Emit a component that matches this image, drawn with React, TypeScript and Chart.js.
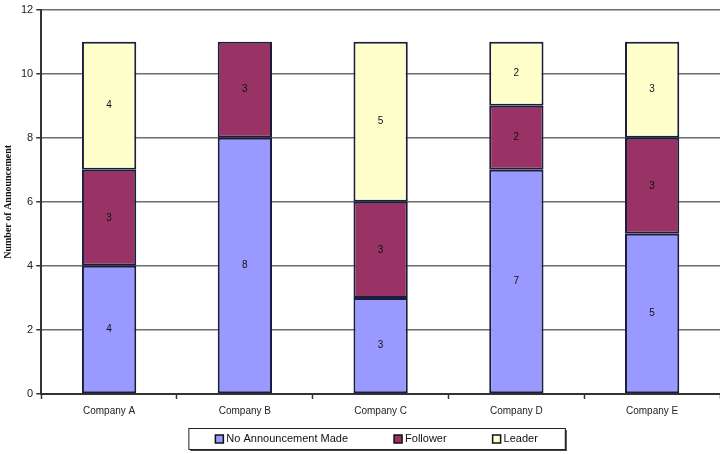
import { useEffect, useRef } from "react";
import { Chart, registerables, Plugin } from "chart.js";

Chart.register(...registerables);

const companies = ["Company A", "Company B", "Company C", "Company D", "Company E"];
const noAnnouncement = [4, 8, 3, 7, 5];
const follower = [3, 3, 3, 2, 3];
const leader = [4, 0, 5, 2, 3];

const SANS = "'Liberation Sans', Arial, sans-serif";
const EDGE = "#1c1c3c";

// numbers in the middle of each segment
const segmentLabels: Plugin<"bar"> = {
  id: "segmentLabels",
  afterDatasetsDraw(chart) {
    const ctx = chart.ctx;
    ctx.save();
    ctx.font = `10px ${SANS}`;
    ctx.fillStyle = "#111";
    ctx.textAlign = "center";
    ctx.textBaseline = "middle";
    chart.data.datasets.forEach((ds, i) => {
      const meta = chart.getDatasetMeta(i);
      meta.data.forEach((bar: any, j) => {
        const v = ds.data[j] as number;
        if (!v) return;
        ctx.fillText(String(v), bar.x, (bar.y + bar.base) / 2);
      });
    });
    ctx.restore();
  },
};

// boxed legend under the axis, like the spreadsheet one
const boxedLegend: Plugin<"bar"> = {
  id: "boxedLegend",
  afterDraw(chart) {
    const ctx = chart.ctx;
    const area = chart.chartArea;
    ctx.save();
    ctx.font = `11px ${SANS}`;
    const marker = 8;
    const gap = 3;
    const between = 46;
    const pad = 27;
    const items = chart.data.datasets.map((ds) => ({
      label: ds.label as string,
      color: ds.backgroundColor as string,
      w: marker + gap + ctx.measureText(ds.label as string).width,
    }));
    const inner = items.reduce((s, it) => s + it.w, 0) + between * (items.length - 1);
    const boxW = inner + pad * 2;
    const boxH = 21;
    const boxX = (area.left + area.right) / 2 - 4 - boxW / 2;
    const boxY = chart.height - 26;

    // shadow
    ctx.fillStyle = "#444";
    ctx.fillRect(boxX + 2, boxY + 2, boxW, boxH);
    ctx.fillStyle = "#fff";
    ctx.fillRect(boxX, boxY, boxW, boxH);
    ctx.strokeStyle = "#222";
    ctx.lineWidth = 1;
    ctx.strokeRect(boxX + 0.5, boxY + 0.5, boxW, boxH);

    let x = boxX + pad;
    const cy = boxY + boxH / 2 + 0.5;
    ctx.textBaseline = "middle";
    ctx.textAlign = "left";
    items.forEach((it) => {
      ctx.fillStyle = it.color;
      ctx.fillRect(x, cy - marker / 2, marker, marker);
      ctx.strokeStyle = "#111";
      ctx.lineWidth = 1.5;
      ctx.strokeRect(x, cy - marker / 2, marker, marker);
      ctx.fillStyle = "#111";
      ctx.fillText(it.label, x + marker + gap, cy);
      x += it.w + between;
    });
    ctx.restore();
  },
};

export default function App() {
  const canvasRef = useRef<HTMLCanvasElement>(null);

  useEffect(() => {
    if (!canvasRef.current) return;
    const chart = new Chart(canvasRef.current, {
      type: "bar",
      data: {
        labels: companies,
        datasets: [
          { label: "No Announcement Made", data: noAnnouncement, backgroundColor: "#9999ff" },
          { label: "Follower", data: follower, backgroundColor: "#993366" },
          { label: "Leader", data: leader, backgroundColor: "#ffffcc" },
        ].map((d) => ({
          ...d,
          borderColor: EDGE,
          borderWidth: 2,
          borderSkipped: false,
          categoryPercentage: 1,
          barPercentage: 0.4,
        })),
      },
      options: {
        animation: false,
        responsive: true,
        maintainAspectRatio: false,
        layout: { padding: { top: 4, right: 0, bottom: 31, left: 0 } },
        plugins: {
          legend: { display: false },
          tooltip: { enabled: false },
        },
        scales: {
          x: {
            stacked: true,
            grid: {
              drawOnChartArea: false,
              drawTicks: true,
              tickLength: 5,
              tickColor: "#333",
              tickWidth: 1.5,
            },
            border: { color: "#333", width: 2 },
            ticks: { color: "#222", font: { family: SANS, size: 10 }, padding: 6 },
          },
          y: {
            stacked: true,
            min: 0,
            max: 12,
            ticks: { stepSize: 2, color: "#222", font: { family: SANS, size: 11 }, padding: 3 },
            grid: {
              color: "#6e6e6e",
              lineWidth: 1.5,
              tickLength: 5,
              tickColor: "#333",
            },
            border: { color: "#333", width: 2 },
            title: {
              display: true,
              text: "Number of Announcement",
              color: "#111",
              font: { family: "'Liberation Serif', 'Times New Roman', serif", size: 10, weight: "bold" },
              padding: { top: 2, bottom: 4 },
            },
          },
        },
      },
      plugins: [segmentLabels, boxedLegend],
    });
    return () => chart.destroy();
  }, []);

  return (
    <div style={{ position: "fixed", left: 0, top: 0, width: 720, height: 454, background: "#fff" }}>
      <canvas ref={canvasRef} />
    </div>
  );
}
